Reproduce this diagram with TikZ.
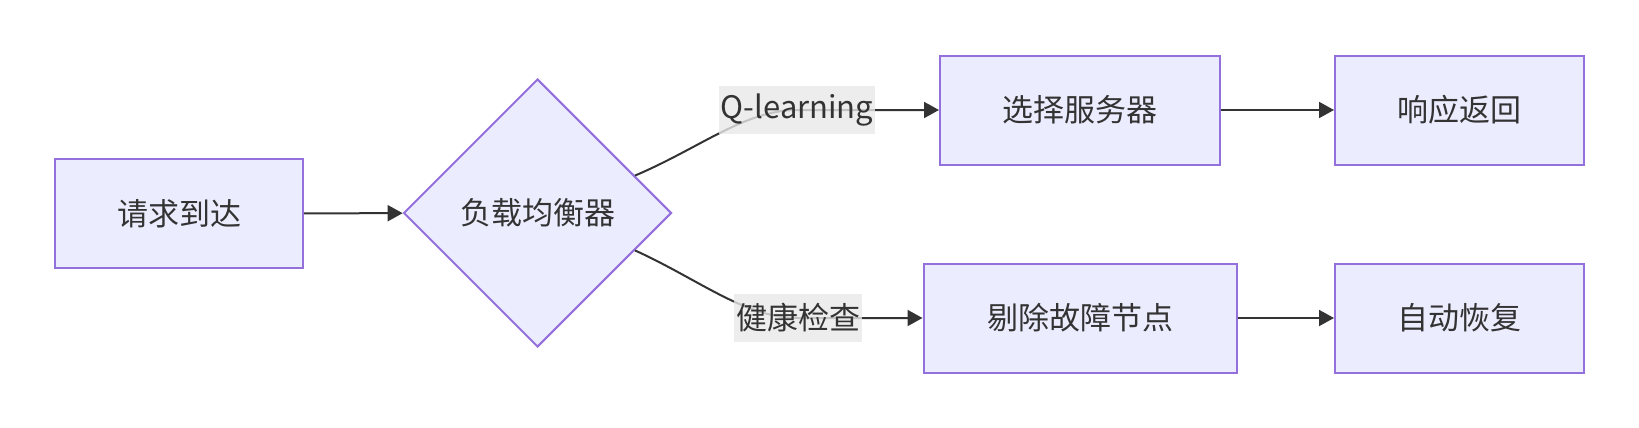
\documentclass[tikz,border=0pt]{standalone}
\usepackage{fontspec}
\setmainfont{Noto Sans CJK SC}
\usepackage{xcolor}
\usetikzlibrary{positioning,arrows.meta,shapes.geometric}
\definecolor{nodefill}{HTML}{ECECFF}
\definecolor{nodeline}{HTML}{9370DB}
\definecolor{ink}{HTML}{333333}
\definecolor{lblbg}{HTML}{E8E8E8}

\begin{document}
\begin{tikzpicture}[x=0.5pt,y=-0.5pt,font=\fontsize{15.5}{18}\selectfont,text=ink]
  \tikzstyle{k}=[draw=nodeline,fill=nodefill,line width=1pt,minimum height=54.5pt,inner sep=0pt,align=center]
  \tikzstyle{dec}=[k,diamond,minimum width=134pt,minimum height=134pt]
  \tikzstyle{flow}=[draw=ink,line width=1pt,-{Triangle[length=7.5pt,width=8pt]}]
  \tikzstyle{lbl}=[fill=lblbg,fill opacity=0.8,text opacity=1,inner xsep=1pt,inner ysep=0pt,minimum height=24pt]
  \useasboundingbox (0,0) rectangle (1639,428);
  \node[k,minimum width=124pt] (req) at (179,213.5) {请求到达};
  \node[dec] (lb) at (537.5,213) {负载均衡器};
  \node[k,minimum width=140pt] (sel) at (1080,110) {选择服务器};
  \node[k,minimum width=124.5pt] (resp) at (1459.5,110) {响应返回};
  \node[k,minimum width=156.5pt] (rm) at (1080,318) {剔除故障节点};
  \node[k,minimum width=124.5pt] (rec) at (1459.5,318) {自动恢复};
  \coordinate (qpos) at (797,110);
  \coordinate (hpos) at (798,318);
  \draw[flow] (req) -- (lb);
  \draw[flow] (lb.21) .. controls (700,148) and (745,110) .. (qpos) node[lbl] (ql) {Q-learning} -- (sel);
  \draw[flow] (lb.-21) .. controls (700,280) and (745,318) .. (hpos) node[lbl] (hc) {健康检查} -- (rm);
  \draw[flow] (sel) -- (resp);
  \draw[flow] (rm) -- (rec);
\end{tikzpicture}
\end{document}
